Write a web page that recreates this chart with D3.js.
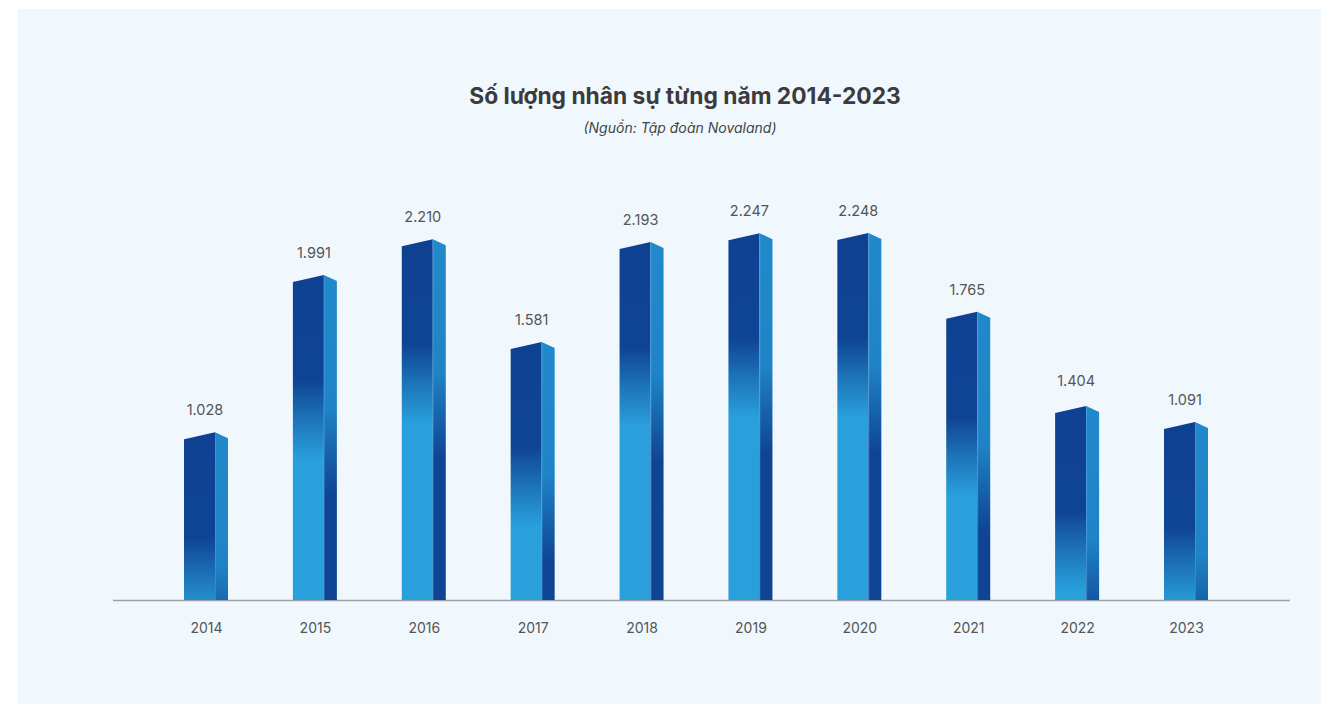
<!DOCTYPE html>
<html>
<head>
<meta charset="utf-8">
<script src="https://cdn.jsdelivr.net/npm/d3@7"></script>
<style>
  html, body { margin: 0; padding: 0; background: #fff; }
  svg { display: block; font-family: "Inter", "Noto Sans", sans-serif; }
</style>
</head>
<body>
<svg id="chart" width="1321" height="704"></svg>
<script>
// data
const years = ['2014', '2015', '2016', '2017', '2018', '2019', '2020', '2021', '2022', '2023'];
const staff = [1028, 1991, 2210, 1581, 2193, 2247, 2248, 1765, 1404, 1091];
// bar heights as drawn in the source; the 2022 bar is drawn shorter than its label says
const barHeights = [1028, 1991, 2210, 1581, 2193, 2247, 2248, 1765, 1188, 1091];

const title = 'Số lượng nhân sự từng năm 2014-2023';
const subtitle = '(Nguồn: Tập đoàn Novaland)';

const vn = d3.formatLocale({ decimal: ',', thousands: '.', grouping: [3], currency: ['', '₫'] });
const fmt = vn.format(',d');

const svg = d3.select('#chart');
const defs = svg.append('defs');

// light panel behind everything
svg.append('rect')
    .attr('x', 18).attr('y', 9)
    .attr('width', 1303).attr('height', 695)
    .attr('fill', '#f0f8fe');

svg.append('text')
    .attr('x', 685).attr('y', 104)
    .attr('text-anchor', 'middle')
    .attr('font-size', 22.8)
    .attr('font-weight', 700)
    .attr('fill', '#3b3b3d')
    .text(title);

svg.append('text')
    .attr('x', 680).attr('y', 133)
    .attr('text-anchor', 'middle')
    .attr('font-size', 14)
    .attr('font-style', 'italic')
    .attr('fill', '#444')
    .text(subtitle);

const baseY = 600;
const x = d3.scalePoint().domain(years).range([206, 1186]);
const y = d3.scaleLinear().domain([0, 2248]).range([baseY, 233]);

const frontW = 31, sideW = 13, slope = 7;

// axis line
svg.append('line')
    .attr('x1', 113).attr('x2', 1290)
    .attr('y1', baseY + 0.5).attr('y2', baseY + 0.5)
    .attr('stroke', '#9aa0a3')
    .attr('stroke-width', 1.5);

// year labels
const xAxis = d3.axisBottom(x).tickSize(0).tickPadding(23);
const axisG = svg.append('g')
    .attr('transform', `translate(0,${baseY})`)
    .call(xAxis);
axisG.select('.domain').remove();
axisG.selectAll('text')
    .attr('font-family', '"Inter", "Noto Sans", sans-serif')
    .attr('font-size', 14)
    .attr('fill', '#555');

const bars = years.map((yr, i) => ({ year: yr, value: staff[i], h: barHeights[i], i }));

// gradients run in page pixels from each bar's top, so short bars stay darker
bars.forEach(d => {
    const top = y(d.h);
    const gf = defs.append('linearGradient')
        .attr('id', 'front' + d.i)
        .attr('gradientUnits', 'userSpaceOnUse')
        .attr('x1', 0).attr('x2', 0)
        .attr('y1', top).attr('y2', top + 185);
    gf.append('stop').attr('offset', 0).attr('stop-color', '#0f4193');
    gf.append('stop').attr('offset', 0.57).attr('stop-color', '#0f4494');
    gf.append('stop').attr('offset', 0.78).attr('stop-color', '#1d74b8');
    gf.append('stop').attr('offset', 1).attr('stop-color', '#29a0dc');

    const gs = defs.append('linearGradient')
        .attr('id', 'side' + d.i)
        .attr('gradientUnits', 'userSpaceOnUse')
        .attr('x1', 0).attr('x2', 0)
        .attr('y1', top).attr('y2', top + 220);
    gs.append('stop').attr('offset', 0).attr('stop-color', '#2189cb');
    gs.append('stop').attr('offset', 0.6).attr('stop-color', '#1f84c7');
    gs.append('stop').attr('offset', 1).attr('stop-color', '#0f4494');
});

const g = svg.append('g');
const bar = g.selectAll('.bar')
  .data(bars)
  .enter().append('g')
    .attr('class', 'bar');

// front face: top edge climbs to the ridge
bar.append('path')
    .attr('d', d => {
        const cx = x(d.year), top = y(d.h);
        const l = cx - 22, m = l + frontW;
        return `M${l},${baseY} L${l},${top + slope} L${m},${top} L${m},${baseY} Z`;
    })
    .attr('fill', d => `url(#front${d.i})`);

// side face: top edge falls away
bar.append('path')
    .attr('d', d => {
        const cx = x(d.year), top = y(d.h);
        const m = cx - 22 + frontW, r = m + sideW;
        return `M${m},${baseY} L${m},${top} L${r},${top + slope - 1} L${r},${baseY} Z`;
    })
    .attr('fill', d => `url(#side${d.i})`);

// faint seam between the faces
bar.append('line')
    .attr('x1', d => x(d.year) - 22 + frontW + 0.5)
    .attr('x2', d => x(d.year) - 22 + frontW + 0.5)
    .attr('y1', d => y(d.h))
    .attr('y2', baseY)
    .attr('stroke', '#5fb3e6')
    .attr('stroke-opacity', 0.35)
    .attr('stroke-width', 1);

bar.append('text')
    .attr('x', d => x(d.year) - 1)
    .attr('y', d => y(d.h) - (d.i === 8 ? 20 : 17))
    .attr('text-anchor', 'middle')
    .attr('font-size', 14.5)
    .attr('fill', '#555')
    .text(d => fmt(d.value));
</script>
</body>
</html>
